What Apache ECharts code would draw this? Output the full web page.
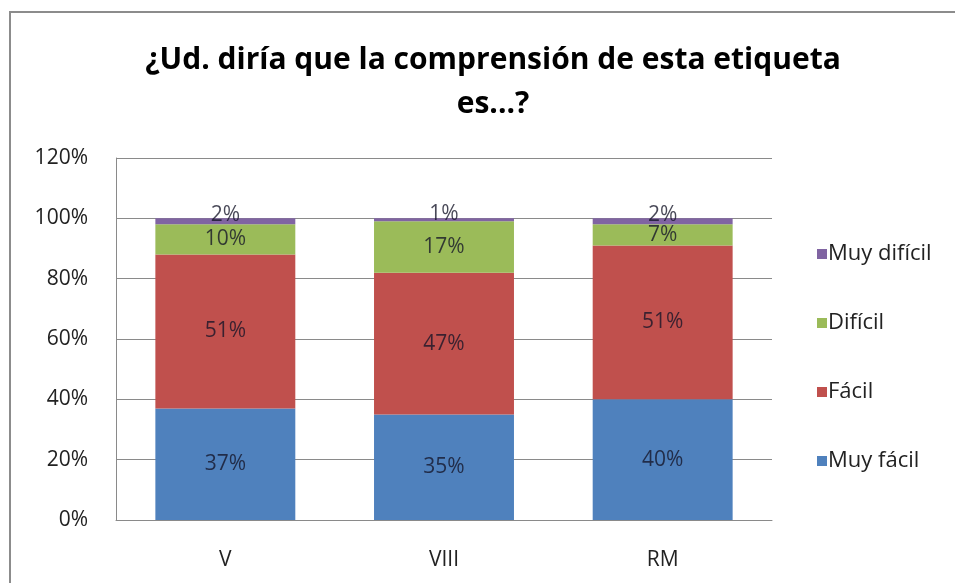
<!DOCTYPE html>
<html>
<head>
<meta charset="utf-8">
<script src="https://cdn.jsdelivr.net/npm/echarts@6/dist/echarts.min.js"></script>
<style>
  html, body { margin: 0; padding: 0; background: #fff; }
  #chart { width: 955px; height: 583px; }
</style>
</head>
<body>
<div id="chart"></div>
<script>
// data
const regiones = ['V', 'VIII', 'RM'];
const muyFacil = [37, 35, 40];
const facil = [51, 47, 51];
const dificil = [10, 17, 7];
const muyDificil = [2, 1, 2];
const yTicks = [0, 20, 40, 60, 80, 100, 120];

const font = 'Open Sans';
const chart = echarts.init(document.getElementById('chart'));

function serie(name, data, color, extraLabel) {
  return {
    name: name,
    type: 'bar',
    stack: 'total',
    data: data,
    barWidth: '64%',
    itemStyle: { color: color },
    label: Object.assign({
      show: true,
      position: 'inside',
      formatter: '{c}%',
      color: 'rgba(20,20,40,0.78)',
      fontFamily: font,
      fontSize: 21
    }, extraLabel || {})
  };
}

let option = {
  animation: false,
  title: {
    text: '¿Ud. diría que la comprensión de esta etiqueta\nes...?',
    left: 488,
    textAlign: 'center',
    top: 33,
    textStyle: {
      fontFamily: font,
      fontWeight: 'bold',
      fontSize: 30,
      lineHeight: 44,
      color: '#000'
    }
  },
  graphic: [{
    type: 'rect',
    shape: { x: 10, y: 12, width: 960, height: 590 },
    style: { fill: 'none', stroke: '#8c8c8c', lineWidth: 2 },
    silent: true
  }],
  legend: {
    orient: 'vertical',
    left: 812,
    top: 238,
    itemGap: 47,
    itemWidth: 10,
    itemHeight: 10,
    icon: 'rect',
    data: ['Muy difícil', 'Difícil', 'Fácil', 'Muy fácil'],
    textStyle: { fontFamily: font, fontSize: 22, lineHeight: 20, color: '#222', padding: [0, 0, 0, -4] }
  },
  grid: { left: 116, right: 183, top: 158, bottom: 63 },
  xAxis: {
    type: 'category',
    data: regiones,
    axisLine: { lineStyle: { color: '#8a8a8a', width: 1 } },
    axisTick: { show: false },
    axisLabel: { fontFamily: font, fontSize: 21, color: '#222', margin: 30 }
  },
  yAxis: {
    type: 'value',
    min: yTicks[0],
    max: yTicks[yTicks.length - 1],
    interval: 20,
    axisLine: { show: true, lineStyle: { color: '#8a8a8a', width: 1 } },
    axisTick: { show: false },
    splitLine: { lineStyle: { color: '#8a8a8a', width: 1 } },
    axisLabel: { formatter: '{value}%', fontFamily: font, fontSize: 21, color: '#222', margin: 28 }
  },
  series: [
    serie('Muy fácil', muyFacil, '#4f81bd'),
    serie('Fácil', facil, '#c0504d'),
    serie('Difícil', dificil, '#9bbb59'),
    serie('Muy difícil', muyDificil, '#8064a2', { offset: [0, -6] })
  ]
};

chart.setOption(option);
</script>
</body>
</html>
